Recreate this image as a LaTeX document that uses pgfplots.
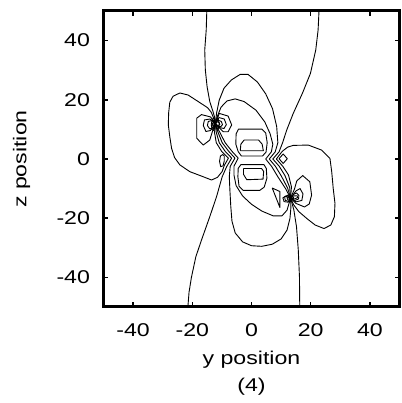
\documentclass[border=0pt]{standalone}
\usepackage{fontspec}
\setmainfont{Liberation Sans}[FakeStretch=1.25]
\usepackage{pgfplots}
\pgfplotsset{compat=1.18}
\pgfplotsset{cline/.style={black, line width=0.9pt, no marks, line join=round}}
\begin{document}
\begin{tikzpicture}[font=\fontsize{18.5}{22}\selectfont]
\path[use as bounding box] (-103.5pt,-96pt) rectangle (297.5pt,307pt);
\begin{axis}[
  width=296pt, height=296pt, scale only axis,
  xmin=-50, xmax=50, ymin=-50, ymax=50,
  xtick={-40,-20,0,20,40}, xticklabels={-40,-20,0,20,40},
  ytick={-40,-20,0,20,40}, yticklabels={-40,-20,0,20,40},
  ticklabel style={font=\fontsize{18.5}{22}\selectfont},
  xticklabel style={yshift=-13pt},
  yticklabel style={xshift=-10pt},
  major tick length=5pt,
  tick style={line width=1.5pt, black},
  axis line style={line width=3pt},
]
% long lines to the edges
\addplot[cline] coordinates {(-15.1,50) (-15.3,43.6) (-15.8,36.8) (-15.6,30.1) (-15.0,24.4) (-14.1,19.4) (-13.0,16.0) (-12.3,13.5) (-12.2,11.8)};
\addplot[cline] coordinates {(13.2,-13.2) (14.3,-17.2) (15.2,-22.9) (15.8,-30.7) (16.2,-39.8) (16.3,-50)};
\addplot[cline] coordinates {(13.2,-13.2) (12.9,-9.6) (11.3,-5.6) (9.4,-2.5) (7.2,0.0) (9.3,2.4) (10.5,5.5) (11.9,9.8) (14.1,15.4) (17.2,22.2) (19.9,28.9) (21.7,36.8) (22.5,43.6) (22.8,50)};
\addplot[cline] coordinates {(-12.2,11.8) (-11.9,9.0) (-10.9,5.5) (-8.9,2.6) (-6.7,0.3) (-8.4,-2.6) (-9.9,-6.0) (-10.9,-9.5) (-11.8,-12.7) (-14.1,-19.5) (-16.9,-27.4) (-18.8,-33.0) (-20.3,-40.0) (-21.1,-45.0) (-21.5,-50)};
% lobes through both centres
\addplot[cline] coordinates {(13.2,-13.2) (12.2,-9.8) (10.1,-5.8) (8.1,-2.5) (6.0,0.0) (8.0,2.4) (8.9,5.5) (8.5,11.0) (7.1,17.0) (4.8,22.0) (2.0,26.0) (-1.2,28.6) (-3.8,28.6) (-6.8,26.7) (-9.3,23.9) (-10.9,19.9) (-11.8,15.5) (-12.2,11.8)};
\addplot[cline] coordinates {(13.2,-13.2) (11.5,-10.0) (8.9,-6.0) (6.8,-2.5) (4.8,0.0) (6.7,2.4) (7.2,5.0) (6.3,8.5) (4.5,12.5) (1.5,16.5) (-2.5,19.4) (-5.5,20.3) (-8.3,19.6) (-10.3,17.5) (-11.5,14.5) (-12.2,11.8)};
\addplot[cline] coordinates {(-12.2,11.8) (-11.3,9.0) (-9.9,5.5) (-7.7,2.6) (-5.6,0.3) (-7.2,-2.5) (-7.5,-6.0) (-7.3,-10.5) (-7.0,-16.0) (-6.6,-21.0) (-5.5,-25.0) (-3.0,-28.0) (0.0,-29.3) (3.5,-29.5) (7.0,-28.8) (10.0,-27.0) (12.0,-24.0) (13.0,-20.0) (13.3,-16.5) (13.2,-13.2)};
\addplot[cline] coordinates {(-12.2,11.8) (-10.7,9.0) (-8.9,5.5) (-6.6,2.6) (-4.5,0.3) (-5.9,-2.4) (-5.9,-5.5) (-5.2,-9.0) (-3.0,-12.5) (0.0,-15.3) (3.5,-17.6) (7.3,-19.2) (10.3,-19.2) (12.0,-17.3) (13.2,-13.2)};
% side lobes
\addplot[cline] coordinates {(13.2,-13.2) (13.5,-9.4) (12.5,-5.4) (10.6,-2.5) (8.4,0.0) (10.4,2.6) (12.2,4.0) (14.1,4.6) (19.2,4.7) (23.7,3.0) (26.5,0.2) (27.1,-4.3) (27.6,-9.9) (28.2,-15.0) (28.0,-19.5) (26.8,-22.3) (24.5,-23.5) (21.5,-22.3) (18.8,-20.2) (16.0,-17.8) (14.2,-15.4) (13.2,-13.2)};
\addplot[cline] coordinates {(-12.2,11.8) (-12.5,9.0) (-11.9,5.5) (-10.1,2.6) (-7.8,0.3) (-9.2,-2.2) (-9.9,-4.2) (-11.5,-6.2) (-13.5,-7.1) (-16.3,-6.0) (-20.8,-4.3) (-24.2,-2.0) (-26.0,0.5) (-27.0,3.6) (-27.6,7.5) (-28.1,11.5) (-28.0,15.5) (-27.6,19.2) (-26.5,21.2) (-24.2,22.3) (-21.4,21.6) (-18.0,19.4) (-14.8,17.3) (-13.6,15.8) (-12.8,13.8) (-12.2,11.8)};
% loops round the upper centre
\addplot[cline] coordinates {(-12.2,11.8) (-13.8,14.2) (-16.9,15.0) (-18.5,13.8) (-18.5,7.0) (-16.3,4.7) (-14.1,6.4) (-13.2,9.3) (-12.2,11.8)};
\addplot[cline] coordinates {(-12.2,11.8) (-14.0,13.5) (-15.9,13.2) (-16.3,11.3) (-15.4,9.3) (-13.9,9.6) (-12.2,11.8)};
\addplot[cline] coordinates {(-12.2,11.8) (-13.2,13.0) (-14.6,12.7) (-14.9,11.3) (-14.1,10.2) (-13.1,10.5) (-12.2,11.8)};
\addplot[cline] coordinates {(-12.2,11.8) (-12.6,13.9) (-13.3,13.4) (-13.6,11.6) (-13.3,9.9) (-12.7,9.6) (-12.2,11.8)};
\addplot[cline] coordinates {(-12.2,11.8) (-12.4,13.3) (-12.9,13.0) (-13.1,11.6) (-12.9,10.4) (-12.5,10.3) (-12.2,11.8)};
\addplot[cline] coordinates {(-12.2,11.8) (-12.6,12.3) (-13.2,12.0) (-13.0,11.3) (-12.2,11.8)};
\addplot[cline] coordinates {(-12.2,11.8) (-10.9,15.4) (-7.9,14.5) (-6.7,11.5) (-7.9,9.2) (-9.5,9.2) (-12.2,11.8)};
\addplot[cline] coordinates {(-12.2,11.8) (-11.0,14.0) (-9.2,13.5) (-8.5,11.6) (-9.3,10.3) (-10.8,10.6) (-12.2,11.8)};
\addplot[cline] coordinates {(-12.2,11.8) (-11.4,13.1) (-10.2,12.7) (-9.8,11.6) (-10.4,10.9) (-11.4,11.1) (-12.2,11.8)};
\addplot[cline] coordinates {(-12.2,11.8) (-11.8,13.6) (-11.2,13.3) (-10.9,11.7) (-11.2,10.3) (-11.7,10.0) (-12.2,11.8)};
\addplot[cline] coordinates {(-12.2,11.8) (-11.7,12.6) (-10.9,12.3) (-10.7,11.6) (-11.3,11.3) (-12.2,11.8)};
% loops round the lower centre
\addplot[cline] coordinates {(13.2,-13.2) (15.0,-15.0) (17.9,-16.2) (19.5,-15.2) (20.3,-12.2) (19.7,-7.7) (17.3,-5.6) (15.3,-7.4) (14.5,-10.2) (13.2,-13.2)};
\addplot[cline] coordinates {(13.2,-13.2) (15.0,-14.5) (17.0,-14.0) (17.4,-11.8) (16.4,-10.0) (15.0,-10.8) (13.2,-13.2)};
\addplot[cline] coordinates {(13.2,-13.2) (14.6,-14.0) (15.9,-13.5) (16.0,-12.3) (15.2,-11.5) (14.3,-11.9) (13.2,-13.2)};
\addplot[cline] coordinates {(13.2,-13.2) (14.6,-13.5) (15.6,-13.0) (15.4,-12.4) (14.1,-12.5) (13.2,-13.2)};
\addplot[cline] coordinates {(13.2,-13.2) (13.9,-13.5) (14.3,-13.1) (13.9,-12.7) (13.2,-13.2)};
\addplot[cline] coordinates {(13.2,-13.2) (12.3,-12.2) (11.2,-12.7) (11.4,-14.0) (12.5,-14.3) (13.2,-13.2)};
\addplot[cline] coordinates {(13.2,-13.2) (12.6,-12.7) (12.0,-13.0) (12.2,-13.7) (13.2,-13.2)};
\addplot[cline] coordinates {(13.2,-13.2) (11.6,-12.6) (10.6,-13.1) (11.0,-14.4) (12.4,-14.6) (13.2,-13.2)};
\addplot[cline] coordinates {(7.0,-9.8) (9.6,-11.0) (9.6,-16.4) (7.0,-9.8)};
% small loops beside the saddles
\addplot[cline] coordinates {(-9.2,1.0) (-9.7,1.5) (-10.5,1.0) (-10.8,-0.8) (-10.4,-2.6) (-9.6,-2.3) (-9.2,-0.6) (-9.2,1.0)};
\addplot[cline] coordinates {(9.3,0.1) (10.7,1.7) (12.1,0.1) (10.7,-1.5) (9.3,0.1)};
% central loops
\addplot[cline] coordinates {(-4.4,10.1) (3.5,10.1) (4.8,8.8) (5.3,5.5) (4.9,2.3) (3.7,1.0) (-3.4,1.0) (-4.5,2.5) (-5.3,5.0) (-5.2,8.5) (-4.4,10.1)};
\addplot[cline] coordinates {(-3.8,2.8) (-3.6,5.0) (-2.5,6.4) (2.4,6.4) (3.6,5.0) (4.0,2.8) (-3.8,2.8)};
\addplot[cline] coordinates {(-3.6,-1.9) (4.2,-1.9) (5.0,-3.2) (5.2,-6.5) (4.3,-9.5) (2.8,-10.6) (-2.8,-10.6) (-4.2,-9.2) (-4.6,-6.0) (-4.5,-3.2) (-3.6,-1.9)};
\addplot[cline] coordinates {(-2.7,-3.2) (3.4,-3.2) (4.1,-4.2) (3.9,-6.8) (-1.6,-7.0) (-2.7,-5.2) (-2.7,-3.2)};
\end{axis}
\node[anchor=base] at ([yshift=-57pt]current axis.south) {y position};
\node[anchor=base] at ([yshift=-84pt]current axis.south) {(4)};
\node[rotate=90, anchor=base] at ([xshift=-77pt]current axis.west) {z position};
\end{tikzpicture}
\end{document}
